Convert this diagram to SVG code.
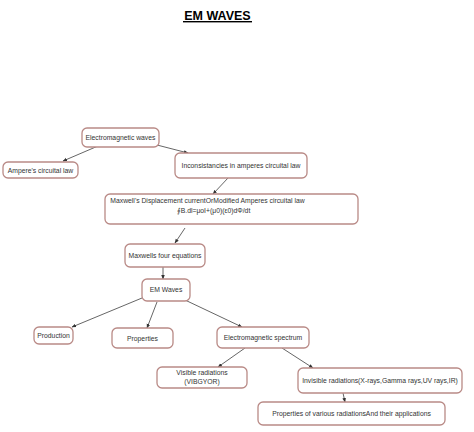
<svg xmlns="http://www.w3.org/2000/svg" width="474" height="432" viewBox="0 0 474 432">
<defs>
<style>
.n rect{fill:#fff;stroke:#b98a86;stroke-width:1.3}
.n text{font-family:"Liberation Sans",Arial,sans-serif;font-size:6.8px;fill:#333;text-anchor:middle}
.c line{stroke:#555;stroke-width:0.9;marker-end:url(#a)}
.t{font-family:"Liberation Sans",Arial,sans-serif;font-weight:bold;font-size:12.5px;fill:#000;text-anchor:middle}
</style>
<marker id="a" viewBox="0 0 10 10" refX="9" refY="5" markerWidth="5" markerHeight="5" orient="auto"><path d="M0,1 L10,5 L0,9 z" fill="#333"/></marker>
</defs>
<rect width="474" height="432" fill="#fff"/>
<g id="title"><text class="t" x="217.5" y="20">EM WAVES</text><rect x="183" y="21" width="69" height="1.4" fill="#000"/></g>
<g class="c" id="connectors">
<line x1="98" y1="146" x2="63" y2="161"/>
<line x1="157" y1="145" x2="188" y2="153"/>
<line x1="228" y1="178" x2="213" y2="194"/>
<line x1="185" y1="228" x2="175" y2="243"/>
<line x1="163" y1="267" x2="163" y2="279"/>
<line x1="142" y1="298" x2="72" y2="327"/>
<line x1="157" y1="302" x2="147" y2="328"/>
<line x1="185" y1="300" x2="242" y2="327"/>
<line x1="245" y1="348" x2="218" y2="367"/>
<line x1="282" y1="348" x2="313" y2="368"/>
<line x1="343" y1="393" x2="345" y2="402"/>
</g>
<g class="n" id="n1"><rect x="82" y="128" width="77" height="19" rx="5"/><text x="120.5" y="140">Electromagnetic waves</text></g>
<g class="n" id="n2"><rect x="3" y="162" width="75" height="16" rx="5"/><text x="40.5" y="172.5">Ampere's circuital law</text></g>
<g class="n" id="n3"><rect x="175" y="153" width="132" height="25" rx="5"/><text x="241" y="168">Inconsistancies in amperes circuital law</text></g>
<g class="n" id="n4"><rect x="105" y="194" width="253" height="30" rx="5"/><text x="207.5" y="203">Maxwell's Displacement currentOrModified Amperes circuital law</text><text x="213.5" y="213">∮B.dl=μoI+(μ0)(ε0)dΦ/dt</text></g>
<g class="n" id="n5"><rect x="125" y="244" width="80" height="23" rx="5"/><text x="165" y="258">Maxwells four equations</text></g>
<g class="n" id="n6"><rect x="142" y="279" width="48" height="22" rx="5"/><text x="166" y="292">EM Waves</text></g>
<g class="n" id="n7"><rect x="34" y="327" width="39" height="17" rx="5"/><text x="53.5" y="338">Production</text></g>
<g class="n" id="n8"><rect x="112" y="328" width="61" height="20" rx="5"/><text x="142.5" y="340.5">Properties</text></g>
<g class="n" id="n9"><rect x="217" y="327" width="92" height="21" rx="5"/><text x="263" y="340">Electromagnetic spectrum</text></g>
<g class="n" id="n10"><rect x="157" y="367" width="90" height="21" rx="5"/><text x="202" y="375">Visible radiations</text><text x="202" y="383.5">(VIBGYOR)</text></g>
<g class="n" id="n11"><rect x="298" y="368" width="164" height="25" rx="5"/><text x="380" y="383">Invisible radiations(X-rays,Gamma rays,UV rays,IR)</text></g>
<g class="n" id="n12"><rect x="258" y="402" width="187" height="23" rx="5"/><text x="351.5" y="416">Properties of various radiationsAnd their applications</text></g>
</svg>
